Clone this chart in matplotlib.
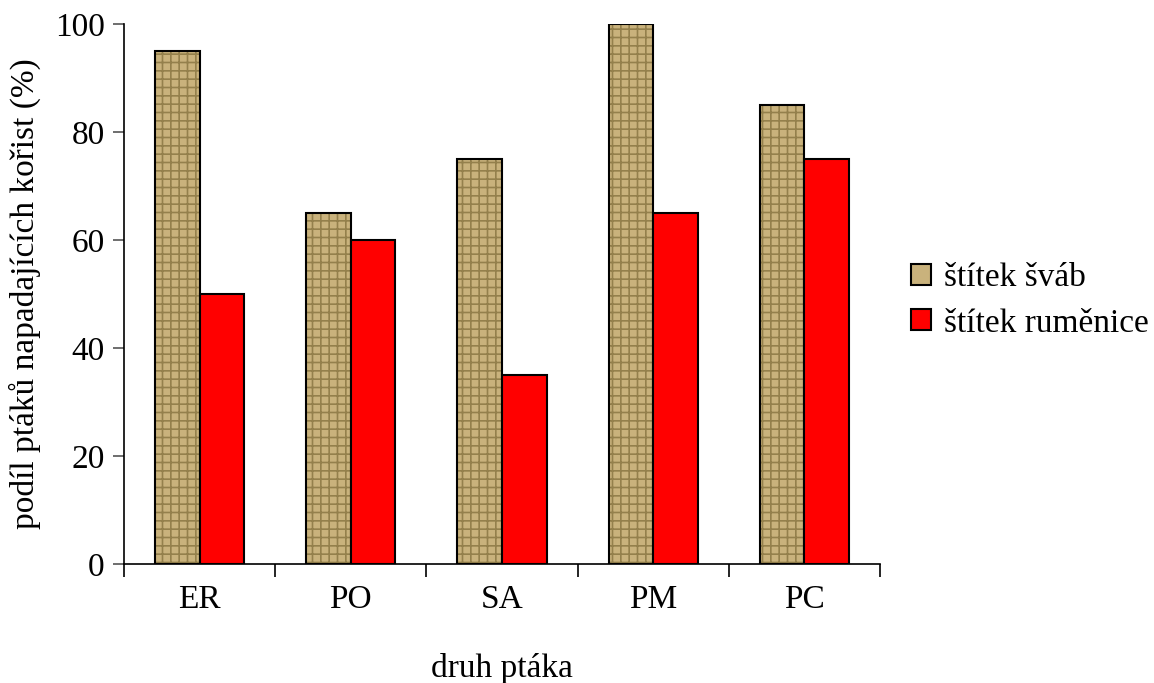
import matplotlib
matplotlib.use("Agg")
import matplotlib.pyplot as plt
import numpy as np
from matplotlib.patches import Patch

species = ["ER", "PO", "SA", "PM", "PC"]
svab = [95, 65, 75, 100, 85]
rumenice = [50, 60, 35, 65, 75]
labels = ["štítek šváb", "štítek ruměnice"]

plt.rcParams['font.family'] = ['Liberation Serif', 'DejaVu Serif']
plt.rcParams['hatch.linewidth'] = 1.2

fig = plt.figure(figsize=(11.54, 6.83), dpi=100)
ax = fig.add_axes([0.1075, 0.1742, 0.655, 0.7907])

x = np.arange(len(species))
w = 0.295
tan = "#c9b27c"
brown = "#94804c"
fs = 24

# textured bars: fill + hatch, then black outline on top
ax.bar(x - w / 2, svab, w, color=tan, edgecolor=brown, hatch="++", linewidth=0, zorder=2)
ax.bar(x - w / 2, svab, w, facecolor="none", edgecolor="black", linewidth=1.5, zorder=3)
ax.bar(x + w / 2, rumenice, w, color="#ff0000", edgecolor="black", linewidth=1.5, zorder=3)

ax.set_xlim(-0.5, 4.5)
ax.set_ylim(0, 100)
ax.set_yticks([0, 20, 40, 60, 80, 100])
ax.set_xticks(x)
ax.set_xticklabels(species)
ax.set_xticks(np.arange(-0.5, 5, 1), minor=True)
ax.tick_params(axis="x", which="major", length=0, pad=15, labelsize=fs)
ax.tick_params(axis="x", which="minor", length=9, width=1.2, direction="out")
ax.tick_params(axis="y", length=8, width=1.2, color="#555555", labelsize=fs, pad=6)

for s in ["top", "right"]:
    ax.spines[s].set_visible(False)
ax.spines["left"].set_linewidth(1.2)
ax.spines["bottom"].set_linewidth(1.2)

ax.set_ylabel("podíl ptáků napadajících kořist (%)", fontsize=fs, labelpad=10)
ax.set_xlabel("druh ptáka", fontsize=fs, labelpad=27)

# proxy handles for legend
h1 = Patch(facecolor=tan, edgecolor="black", linewidth=1.5)
h2 = Patch(facecolor="#ff0000", edgecolor="black", linewidth=1.5)
fig.legend([h1, h2], labels, loc="center left", bbox_to_anchor=(0.789, 0.56),
           frameon=False, fontsize=fs, handlelength=0.6, handleheight=0.6,
           handletextpad=0.4, labelspacing=0.45, borderaxespad=0, borderpad=0)

fig.savefig("out.png", dpi=100)
